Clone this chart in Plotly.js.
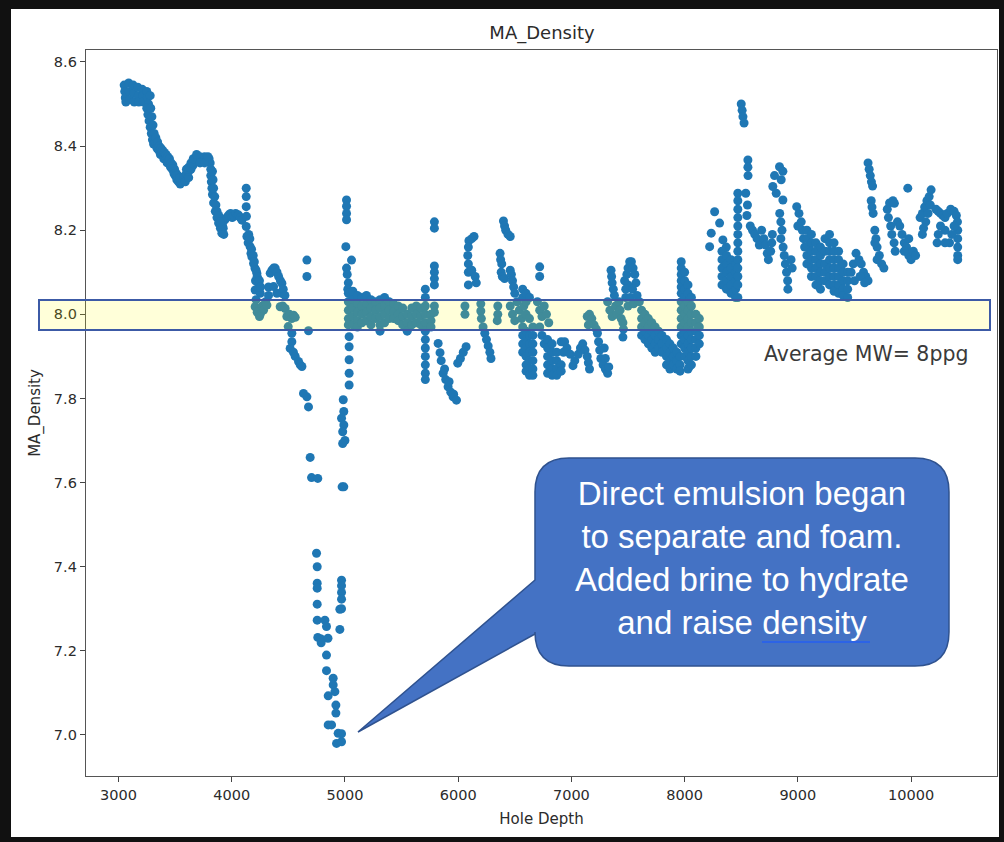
<!DOCTYPE html>
<html>
<head>
<meta charset="utf-8">
<script src="https://cdn.plot.ly/plotly-3.0.1.min.js"></script>
<style>
html,body{margin:0;padding:0;background:#fff;}
#chart{width:1004px;height:842px;}
</style>
</head>
<body>
<div id="chart"></div>
<script>
// ---------------- DATA ----------------
const holeDepth = [
  // A
  3050,3055,3060,3065,3090,3095,3100,3130,3135,3140,3170,3175,3180,3210,3215,3220,3250,3255,3265,3280,
  // B
  3250,3260,3270,3280,3290,3300,3310,3325,3340,3355,3370,3385,3400,3415,3430,3445,
  3285,3295,3305,3315,3330,3345,3360,3375,3390,3405,3420,3435,3450,3465,3480,3495,3510,3525,3540,3555,3570,
  // C
  3460,3475,3490,3500,3515,3530,3545,3555,3520,3540,
  // D
  3575,3590,3600,3620,3620,3640,3660,3680,3700,3720,3740,3760,3780,3800,3810,
  3600,3620,3640,3660,3690,3720,3760,3790,
  // E
  3815,3815,3820,3825,3830,3840,3855,3870,3884,3900,3913,3925,3940,3955,3972,3990,4005,4017,4035,4050,4061,4075,4090,3930,3920,
  3830,3835,3840,3850,3860,3870,3885,3900,
  // F
  4128,4128,4128,4130,4128,4134,4145,4163,4170,4178,4193,4205,4222,4230,4237,4207,4252,4240,4210,
  4150,4160,4175,4190,4200,4215,4225,4245,4255,
  // G
  4207,4225,4252,4270,4281,4300,4311,4325,4215,4245,
  // H
  4325,4340,4355,4370,4384,4400,4414,4430,4443,4443,4370,4399,4455,4470,
  // I
  4428,4450,4472,4487,4510,4530,4546,4561,4499,4531,4531,4516,4545,4561,4590,4605,4620,
  // J
  4664,4664,4678,4634,4664,4678,4693,
  // K
  4705,4760,4749,4755,4755,4755,4755,4755,4823,4837,4760,4790,4850,4790,4837,4837,4896,4896,4911,4852,4920,4920,4852,4882,4940,4970,4926,4970,
  // L
  4985,4990,4970,4990,4980,5000,4980,4975,4990,4970,4970,4970,4970,4955,4970,4955,
  // M
  5037,5037,5037,5037,5037,5014,5014,5014,5014,5008,5058,5014,5020,5030,5025,5040,
  // N
  5030,5030,5030,5030,5030,
  5070,5070,5070,5070,5070,
  5110,5110,5110,5110,5110,
  5150,5150,5150,5150,
  5190,5190,5190,5190,
  5230,5230,5230,5230,
  5270,5270,5270,
  5310,5310,5310,5310,5310,
  5350,5350,5350,5350,
  5390,5390,5390,
  5430,5430,5430,
  5470,5470,5470,
  5510,5510,5510,
  5550,5550,5550,
  5590,5590,5590,
  5630,5630,5630,
  5670,5670,5670,
  // O
  5710,5710,5710,5710,5710,5710,5710,5710,5710,5710,5710,5710,
  5760,5760,5760,5790,5790,5790,5790,5790,5790,5790,5790,
  // P
  5823,5840,5850,5867,5880,5890,5911,5920,5935,5955,5960,5985,
  // Q
  5996,6020,6045,6070,6060,6060,6200,6200,6205,
  // R
  6140,6120,6095,6090,6085,6090,6090,6120,6150,6160,6090,
  // S
  6220,6235,6250,6265,6280,6290,
  // T
  6350,6350,6345,6400,6410,6420,6440,6460,6370,6375,6385,6380,6390,6410,6460,6470,6480,6490,6500,6460,6480,6500,6520,6540,6560,6580,6600,
  // U
  6570,6570,6570,6570,6570,6570,
  6600,6600,6600,6600,6600,6600,6600,6600,
  6630,6630,6630,6630,6630,6630,6630,6630,
  6660,6660,6660,6660,6660,6660,6660,
  6720,6720,
  // V
  6700,6720,6740,6760,6780,6800,6720,6740,6760,
  // W
  6790,6790,6790,6790,6790,6830,6830,6830,6830,6830,6870,6870,6870,6870,6910,6910,
  // X
  6910,6940,6960,6930,6990,7014,7030,7060,7080,7100,7120,7140,7150,7160,
  // Y
  7140,7160,7180,7200,7220,7150,7230,7240,7250,7260,7280,7300,7320,7330,7300,7290,
  // Z
  7350,7355,7360,7370,7380,7320,7340,7360,7390,7400,7420,7430,7440,7455,7460,7455,
  // AA
  7470,7490,7500,7515,7530,7545,7560,7570,7500,7480,7540,7480,7500,7520,7550,7580,7600,7620,
  // AB
  7620,7620,7620,
  7650,7650,7650,7650,
  7680,7680,7680,7680,
  7710,7710,7710,7710,
  7740,7740,7740,7740,
  7770,7770,7770,
  7800,7800,7800,
  // AC
  7840,7840,7840,7840,
  7870,7870,7870,7870,
  7900,7900,7900,
  7930,7930,7930,
  7960,7960,7960,
  8040,
  // AD
  7970,7970,7970,7970,7970,7970,7970,7970,7970,7970,7970,7970,
  8000,8000,8000,8000,8000,8000,8000,8000,8000,8000,8000,
  8030,8030,8030,8030,8030,8030,8030,8030,8030,8030,8030,
  8060,8060,8060,8060,8060,8060,8060,8060,8060,
  8100,8100,8100,8100,8100,8100,
  8130,8130,8130,8130,
  // AE
  8265,8309,8235,8221,8338,8368,
  // AF
  8330,8330,8330,8330,8330,
  8370,8370,8370,8370,8370,
  8410,8410,8410,8410,8410,
  8450,8450,8450,8450,8450,
  // AG
  8470,8470,8470,8470,8470,8470,8470,8470,8470,8470,8470,8470,8470,
  8500,8508,8515,8525,8559,8559,8560,8540,8555,8550,
  // AH
  8580,8600,8620,8640,8660,8680,8700,8715,8730,8740,8760,8770,8775,
  // AI
  8838,8794,8779,8809,8868,8853,8868,8840,8850,8860,8850,8870,8880,8890,8900,8910,8912,8940,8950,
  // AJ
  8990,9010,9030,9040,9050,9060,9000,
  // AK
  9080,9080,9080,9080,9080,
  9120,9120,9120,9120,9120,9120,
  9160,9160,9160,9160,9160,9160,
  9200,9200,9200,9200,9200,9200,
  9240,9240,9240,9240,9240,
  9280,9280,9280,9280,9280,9280,9280,
  9320,9320,9320,9320,9320,9320,9320,
  9360,9360,9360,9360,9360,9360,
  9400,9400,9400,9400,9400,
  9440,9440,9440,9440,
  // AL
  9470,9490,9514,9540,9560,9580,9600,9620,9500,9550,9590,
  // AM
  9620,9630,9640,9650,9660,9648,9655,9665,9680,9690,9700,9720,9740,9760,9680,9700,9790,9810,9840,9853,9800,9820,9830,9850,9860,
  // AN
  9880,9900,9920,9940,9960,9980,10000,10020,10040,9940,9980,9971,
  // AO
  10080,10100,10120,10140,10160,10177,10170,10150,10130,10110,10100,
  // AP
  10220,10240,10260,10280,10300,10320,10350,10380,10400,10410,10412,10412,10412,10412,10412,10380,10360,10340,10300,10260,10240,10230,10300
];

const maDensity = [
  // A
  8.545,8.53,8.515,8.505,8.55,8.53,8.51,8.545,8.525,8.505,8.54,8.52,8.505,8.535,8.52,8.505,8.53,8.515,8.50,8.52,
  // B
  8.49,8.475,8.46,8.445,8.43,8.415,8.405,8.41,8.395,8.39,8.38,8.385,8.37,8.375,8.36,8.365,
  8.49,8.47,8.45,8.43,8.42,8.41,8.40,8.395,8.39,8.385,8.38,8.375,8.37,8.36,8.355,8.345,8.335,8.33,8.32,8.325,8.32,
  // C
  8.35,8.345,8.335,8.33,8.32,8.315,8.31,8.315,8.33,8.325,
  // D
  8.327,8.315,8.335,8.325,8.34,8.345,8.355,8.365,8.37,8.375,8.37,8.375,8.37,8.37,8.36,
  8.345,8.35,8.36,8.37,8.38,8.36,8.36,8.375,
  // E
  8.345,8.33,8.315,8.30,8.285,8.265,8.245,8.23,8.217,8.205,8.193,8.205,8.225,8.23,8.236,8.24,8.23,8.233,8.24,8.235,8.236,8.23,8.224,8.19,8.21,
  8.34,8.32,8.30,8.28,8.26,8.245,8.235,8.22,
  // F
  8.30,8.28,8.256,8.233,8.209,8.185,8.17,8.161,8.145,8.137,8.121,8.11,8.098,8.085,8.074,8.058,8.05,8.065,8.08,
  8.19,8.18,8.155,8.14,8.125,8.105,8.09,8.08,8.065,
  // G
  8.018,8.005,8.0,8.02,8.01,8.03,8.022,8.045,8.035,7.995,
  // H
  8.065,8.098,8.105,8.11,8.11,8.10,8.09,8.08,8.074,8.05,8.066,8.05,8.06,8.045,
  // I
  8.018,8.02,8.014,7.995,8.0,7.99,7.998,7.993,7.971,7.955,7.935,7.919,7.91,7.90,7.888,7.88,7.876,
  // J
  8.129,8.09,7.961,7.812,7.804,7.78,7.66,
  // K
  7.612,7.61,7.432,7.40,7.361,7.349,7.311,7.273,7.273,7.258,7.232,7.228,7.23,7.219,7.19,7.153,7.135,7.119,7.103,7.093,7.071,7.052,7.024,7.024,7.004,7.003,6.98,6.984,
  // L
  7.797,7.769,7.753,7.737,7.721,7.70,7.693,7.59,7.59,7.368,7.355,7.339,7.323,7.299,7.30,7.251,
  // M
  7.947,7.923,7.892,7.86,7.832,8.272,8.257,8.24,8.225,8.161,8.129,8.11,8.095,8.075,8.06,8.05,
  // N
  8.05,8.03,8.01,7.99,7.975,
  8.055,8.035,8.015,7.995,7.975,
  8.045,8.025,8.005,7.985,7.97,
  8.04,8.02,8.0,7.98,
  8.045,8.025,8.005,7.985,
  8.035,8.015,7.995,7.975,
  8.03,8.01,7.99,
  8.035,8.015,7.995,7.975,7.96,
  8.04,8.02,8.0,7.98,
  8.03,8.01,7.99,
  8.025,8.005,7.99,
  8.02,8.0,7.985,
  8.015,7.995,7.975,
  8.0,7.98,7.96,
  8.015,7.995,7.975,
  8.02,8.0,7.98,
  8.015,7.995,7.975,
  // O
  8.06,8.04,8.02,8.0,7.98,7.96,7.94,7.92,7.90,7.88,7.86,7.845,
  8.0,7.985,7.97,8.22,8.205,8.115,8.10,8.085,8.07,8.02,8.005,
  // P
  7.931,7.909,7.89,7.86,7.87,7.845,7.828,7.84,7.815,7.804,7.81,7.796,
  // Q
  7.884,7.895,7.91,7.923,8.02,8.0,8.025,8.008,7.99,
  // R
  8.185,8.18,8.175,8.16,8.14,8.12,8.10,8.105,8.09,8.075,8.07,
  // S
  7.97,7.955,7.94,7.925,7.91,7.895,
  // T
  8.02,8.0,7.985,8.222,8.21,8.2,8.19,8.185,8.145,8.13,8.12,8.10,8.09,8.085,8.105,8.095,8.08,8.065,8.05,8.02,8.0,7.985,8.03,8.01,7.99,8.02,8.0,
  // U
  8.06,8.04,7.97,7.95,7.93,7.91,
  8.05,8.03,7.96,7.94,7.92,7.90,7.88,7.865,
  8.04,7.99,7.95,7.93,7.91,7.89,7.87,7.855,
  7.97,7.95,7.93,7.91,7.89,7.87,7.855,
  8.113,8.09,
  // V
  8.03,8.01,7.995,8.02,8.0,7.98,7.97,7.95,7.93,
  // W
  7.94,7.92,7.90,7.88,7.86,7.93,7.91,7.89,7.87,7.855,7.91,7.89,7.87,7.855,7.88,7.865,
  // X
  7.935,7.935,7.92,7.91,7.905,7.878,7.89,7.905,7.92,7.93,7.915,7.90,7.885,7.87,
  // Y
  7.995,8.0,7.99,7.975,7.965,7.975,7.955,7.935,7.915,7.895,7.88,7.87,7.86,7.875,7.895,7.92,
  // Z
  8.105,8.09,8.075,8.06,8.045,8.03,8.01,7.995,8.02,8.0,8.03,8.01,7.99,7.98,7.965,7.946,
  // AA
  8.08,8.095,8.11,8.125,8.125,8.11,8.095,8.075,8.07,8.06,8.06,8.04,8.02,8.04,8.025,8.045,8.03,8.01,
  // AB
  7.99,7.97,7.95,
  8.0,7.98,7.96,7.94,
  7.99,7.97,7.95,7.93,
  7.98,7.96,7.94,7.92,
  7.97,7.95,7.93,7.91,
  7.96,7.94,7.92,
  7.95,7.93,7.91,
  // AC
  7.94,7.92,7.90,7.88,
  7.93,7.91,7.89,7.87,
  7.92,7.90,7.88,
  7.91,7.89,7.87,
  7.90,7.88,7.865,
  7.875,
  // AD
  8.125,8.11,8.095,8.08,8.065,8.05,8.03,8.01,7.99,7.97,7.95,7.93,
  8.10,8.08,8.06,8.04,8.02,8.0,7.98,7.96,7.94,7.92,7.90,
  8.07,8.05,8.03,8.01,7.99,7.97,7.95,7.93,7.91,7.89,7.87,
  8.04,8.02,8.0,7.98,7.96,7.94,7.92,7.90,7.88,
  8.0,7.98,7.96,7.94,7.92,7.90,
  7.99,7.97,7.95,7.93,
  // AE
  8.244,8.217,8.193,8.161,8.177,8.16,
  // AF
  8.15,8.13,8.11,8.09,8.07,
  8.14,8.12,8.10,8.08,8.06,
  8.13,8.11,8.09,8.07,8.05,
  8.12,8.10,8.08,8.06,8.04,
  // AG
  8.288,8.27,8.25,8.23,8.21,8.19,8.17,8.15,8.13,8.11,8.09,8.07,8.04,
  8.50,8.485,8.47,8.455,8.367,8.35,8.33,8.288,8.26,8.235,
  // AH
  8.21,8.20,8.19,8.18,8.165,8.20,8.18,8.165,8.145,8.13,8.15,8.17,8.19,
  // AI
  8.351,8.33,8.304,8.288,8.272,8.32,8.34,8.24,8.22,8.20,8.18,8.16,8.14,8.12,8.10,8.08,8.06,8.13,8.11,
  // AJ
  8.256,8.24,8.22,8.20,8.18,8.16,8.21,
  // AK
  8.20,8.18,8.16,8.14,8.12,
  8.19,8.17,8.15,8.13,8.11,8.09,
  8.17,8.15,8.13,8.11,8.09,8.07,
  8.16,8.14,8.12,8.10,8.08,8.06,
  8.18,8.15,8.12,8.10,8.08,
  8.19,8.17,8.15,8.13,8.11,8.09,8.07,
  8.17,8.15,8.13,8.11,8.09,8.07,8.055,
  8.15,8.13,8.11,8.09,8.07,8.05,
  8.12,8.10,8.08,8.06,8.045,
  8.10,8.08,8.06,8.04,
  // AL
  8.10,8.12,8.145,8.13,8.12,8.10,8.09,8.08,8.08,8.09,8.075,
  // AM
  8.36,8.345,8.33,8.315,8.305,8.27,8.255,8.24,8.20,8.18,8.16,8.14,8.12,8.11,8.17,8.13,8.25,8.265,8.27,8.264,8.23,8.21,8.19,8.17,8.15,
  // AN
  8.22,8.21,8.19,8.17,8.16,8.14,8.13,8.15,8.14,8.15,8.18,8.30,
  // AO
  8.23,8.24,8.255,8.27,8.28,8.296,8.26,8.24,8.22,8.205,8.19,
  // AP
  8.25,8.245,8.24,8.235,8.23,8.24,8.25,8.245,8.235,8.22,8.20,8.18,8.16,8.14,8.13,8.21,8.19,8.17,8.20,8.21,8.19,8.17,8.17
];

const xTickValues = [3000, 4000, 5000, 6000, 7000, 8000, 9000, 10000];
const yTickValues = [7.0, 7.2, 7.4, 7.6, 7.8, 8.0, 8.2, 8.4, 8.6];
const bandRange = [7.963, 8.034];           // highlighted "average" band
const bandLabel = 'Average MW= 8ppg';
const calloutLines = ['Direct emulsion began', 'to separate and foam.', 'Added brine to hydrate', 'and raise density'];

if (holeDepth.length !== maDensity.length) console.error('length mismatch', holeDepth.length, maDensity.length);

// ---------------- LAYOUT GEOMETRY ----------------
const W = 1004, H = 842;
const ML = 86, MR = 7, MT = 50, MB = 66;
const PW = W - ML - MR, PH = H - MT - MB;
const px = v => (v - ML) / PW;            // pixel x -> paper x
const py = v => 1 - (v - MT) / PH;        // pixel y -> paper y
const P = (x, y) => px(x).toFixed(5) + ',' + py(y).toFixed(5);

// callout balloon path (rounded rect with pointer)
function calloutPath(x0, y0, x1, y1, r, pTop, pBot, tipX, tipY) {
  return 'M' + P(x0 + r, y0) +
    ' L' + P(x1 - r, y0) + ' Q' + P(x1, y0) + ' ' + P(x1, y0 + r) +
    ' L' + P(x1, y1 - r) + ' Q' + P(x1, y1) + ' ' + P(x1 - r, y1) +
    ' L' + P(x0 + r, y1) + ' Q' + P(x0, y1) + ' ' + P(x0, y1 - r) +
    ' L' + P(x0, pBot) + ' L' + P(tipX, tipY) + ' L' + P(x0, pTop) +
    ' L' + P(x0, y0 + r) + ' Q' + P(x0, y0) + ' ' + P(x0 + r, y0) + ' Z';
}

const FONT = 'DejaVu Sans, Verdana, sans-serif';

const trace = {
  type: 'scatter',
  mode: 'markers',
  x: holeDepth,
  y: maDensity,
  marker: { color: '#1f77b4', size: 9, line: { width: 0 } },
  hoverinfo: 'x+y',
  showlegend: false
};

const frameRect = (x0, y0, x1, y1, color) => ({
  type: 'rect', xref: 'paper', yref: 'paper', layer: 'above',
  x0: px(x0), x1: px(x1), y0: py(y1), y1: py(y0),
  fillcolor: color, line: { width: 0 }
});

const layout = {
  width: W, height: H,
  margin: { l: ML, r: MR, t: MT, b: MB, pad: 0 },
  paper_bgcolor: '#ffffff',
  plot_bgcolor: '#ffffff',
  font: { family: FONT, size: 14, color: '#2b2b2b' },
  title: {
    text: 'MA_Density',
    font: { family: FONT, size: 18, color: '#2b2b2b' },
    x: px(542), xref: 'paper', xanchor: 'center',
    y: 1 - 33 / H, yref: 'container', yanchor: 'middle'
  },
  xaxis: {
    range: [2713, 10759],
    tickvals: xTickValues,
    ticktext: xTickValues.map(String),
    ticks: 'outside', ticklen: 5, tickwidth: 1, tickcolor: '#444',
    showline: true, mirror: true, linecolor: '#555', linewidth: 1.2,
    showgrid: false, zeroline: false,
    tickfont: { family: FONT, size: 14.5, color: '#2b2b2b' },
    title: { text: 'Hole Depth', font: { family: FONT, size: 15, color: '#2b2b2b' }, standoff: 12 }
  },
  yaxis: {
    range: [6.9025, 8.6285],
    tickvals: yTickValues,
    ticktext: yTickValues.map(v => v.toFixed(1)),
    ticks: 'outside', ticklen: 5, tickwidth: 1, tickcolor: '#444',
    showline: true, mirror: true, linecolor: '#555', linewidth: 1.2,
    showgrid: false, zeroline: false,
    tickfont: { family: FONT, size: 14.5, color: '#2b2b2b' },
    title: { text: 'MA_Density', font: { family: FONT, size: 15, color: '#2b2b2b' }, standoff: 9 }
  },
  shapes: [
    // highlighted band
    {
      type: 'rect', xref: 'paper', yref: 'y', layer: 'above',
      x0: px(39), x1: px(990), y0: bandRange[0], y1: bandRange[1],
      fillcolor: 'rgba(255,255,0,0.15)',
      line: { color: '#3C5AA6', width: 2 }
    },
    // callout balloon
    {
      type: 'path', xref: 'paper', yref: 'paper', layer: 'above',
      path: calloutPath(535, 458, 949, 666, 34, 580, 634, 358, 732),
      fillcolor: '#4472C4',
      line: { color: '#2F528F', width: 1.5 }
    },
    // spelling underline under "density"
    {
      type: 'line', xref: 'paper', yref: 'paper', layer: 'above',
      x0: px(762), x1: px(870), y0: py(642), y1: py(642),
      line: { color: '#2C63E6', width: 2 }
    },
    // black screenshot frame
    frameRect(0, 0, 1004, 9, '#111'),
    frameRect(0, 0, 11, 842, '#111'),
    frameRect(999, 0, 1004, 842, '#111'),
    frameRect(0, 837, 1004, 842, '#111')
  ],
  annotations: [
    {
      xref: 'paper', yref: 'paper', x: px(742), y: py(558),
      xanchor: 'center', yanchor: 'middle', align: 'center', showarrow: false,
      text: calloutLines.join('<br>'),
      font: { family: 'Liberation Sans, Arial, sans-serif', size: 33, color: '#ffffff' }
    },
    {
      xref: 'paper', yref: 'paper', x: px(762), y: py(354),
      xanchor: 'left', yanchor: 'middle', showarrow: false,
      text: bandLabel,
      font: { family: FONT, size: 20.5, color: '#3a3a3a' }
    }
  ]
};

Plotly.newPlot('chart', [trace], layout, { staticPlot: true, displayModeBar: false });
</script>
</body>
</html>
